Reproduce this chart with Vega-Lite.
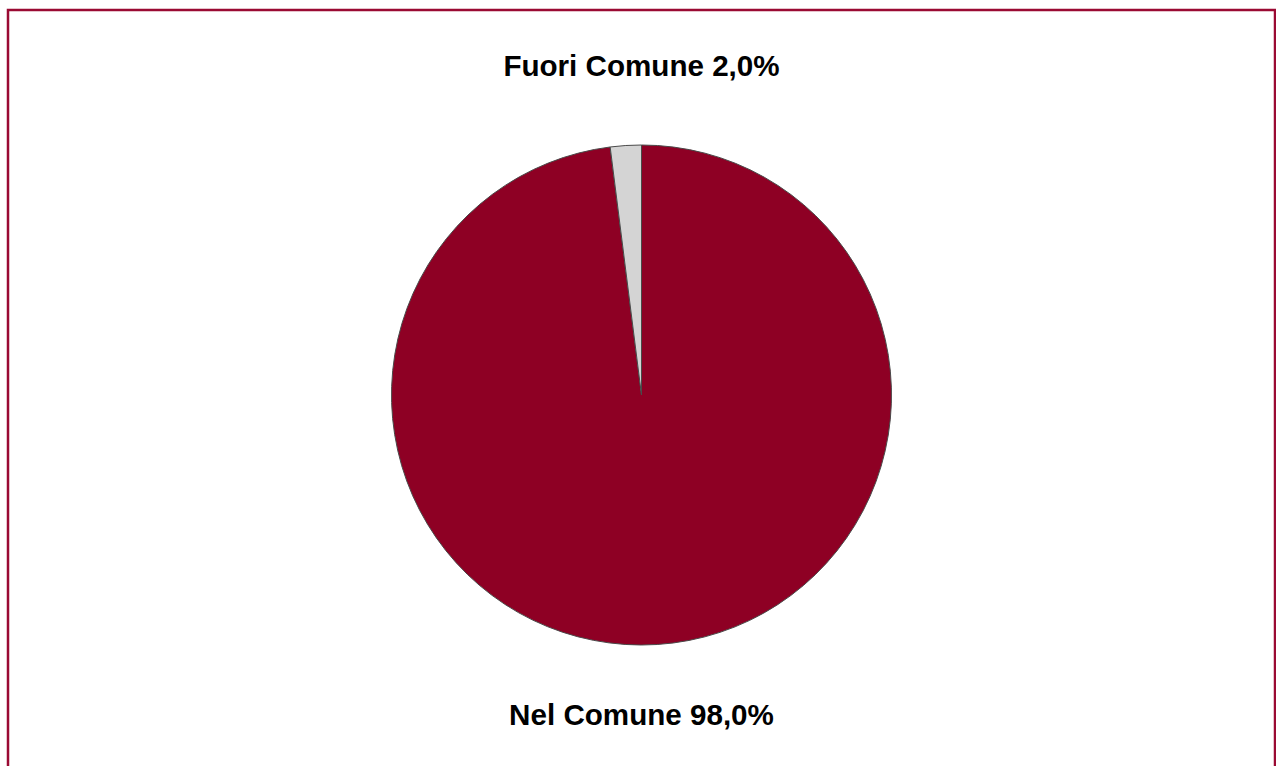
{
  "$schema": "https://vega.github.io/schema/vega-lite/v6.json",
  "width": 1267,
  "height": 770,
  "autosize": {"type": "none"},
  "padding": {"left": 8, "top": 10, "right": 1, "bottom": -14},
  "background": "white",
  "config": {"view": {"stroke": "#9A0A33", "strokeWidth": 2.5}},
  "datasets": {
    "fette": [
      {"categoria": "Nel Comune", "percentuale": 98.0, "ordine": 1},
      {"categoria": "Fuori Comune", "percentuale": 2.0, "ordine": 2}
    ],
    "etichette": [
      {"etichetta": "Fuori Comune 2,0%"},
      {"etichetta": "Nel Comune 98,0%"}
    ]
  },
  "layer": [
    {
      "data": {"name": "fette"},
      "mark": {"type": "arc", "outerRadius": 250, "stroke": "#4a4a4a", "strokeWidth": 1},
      "encoding": {
        "theta": {"field": "percentuale", "type": "quantitative", "stack": true},
        "order": {"field": "ordine", "type": "quantitative"},
        "color": {
          "field": "categoria",
          "type": "nominal",
          "scale": {"domain": ["Nel Comune", "Fuori Comune"], "range": ["#8E0024", "#D4D4D4"]},
          "legend": null
        }
      }
    },
    {
      "data": {"name": "etichette"},
      "mark": {"type": "text", "font": "Liberation Sans", "fontWeight": "bold", "fontSize": 29.6, "baseline": "alphabetic", "align": "center", "color": "#000000"},
      "encoding": {
        "y": {
          "field": "etichetta",
          "type": "nominal",
          "sort": ["Fuori Comune 2,0%", "Nel Comune 98,0%"],
          "scale": {"type": "point", "padding": 0.0932, "align": 0.545},
          "axis": null
        },
        "text": {"field": "etichetta", "type": "nominal"}
      }
    }
  ]
}
